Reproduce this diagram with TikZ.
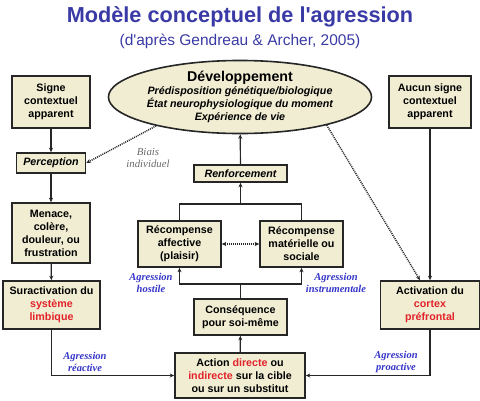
\documentclass[tikz,border=0pt]{standalone}
\usepackage{fontspec}
\setmainfont{Liberation Sans}
\newfontfamily\labelfont{Liberation Serif}
\usepackage{tikz}
\usetikzlibrary{arrows.meta,shapes.geometric}
\usepackage{xcolor}
\definecolor{boxfill}{HTML}{F0EDD2}
\definecolor{titleblue}{HTML}{3A3AA6}
\definecolor{labelblue}{HTML}{3535C8}
\definecolor{accent}{HTML}{E3222A}
\definecolor{biasgray}{HTML}{6A6A6A}

\begin{document}
\begin{tikzpicture}[
    x=1pt, y=-1pt,
    stageBox/.style={rectangle, draw=black!85, fill=boxfill, line width=1.6pt, font=\bfseries\fontsize{10.7}{13}\selectfont, align=center, inner sep=1pt},
    devBox/.style={ellipse, draw=black!85, fill=boxfill, line width=1.6pt, align=center, inner sep=0pt, minimum width=215pt, minimum height=70pt, font=\bfseries\fontsize{10.7}{13}\selectfont},
    labelText/.style={font=\labelfont\bfseries\itshape\fontsize{10.5}{12}\selectfont, text=labelblue, align=center, inner sep=0pt},
    arrowStyle/.style={-{Stealth[length=4.5pt,width=4pt]}, line width=1.2pt, draw=black!85},
    lineStyle/.style={line width=1.2pt, draw=black!85},
    dottedArrow/.style={-{Stealth[length=4.5pt,width=4pt]}, dash pattern=on 1pt off 1pt, line width=1.5pt, draw=black!85}
]
    \useasboundingbox (0,0) rectangle (480,400);

    % titre
    \node[font=\bfseries\fontsize{21.7}{24}\selectfont, text=titleblue] (title) at (240,17) {Mod\`ele conceptuel de l\textquotesingle agression};
    \node[font=\fontsize{15.5}{18}\selectfont, text=titleblue] (subtitle) at (240,41) {(d\textquotesingle apr\`es Gendreau \& Archer, 2005)};

    % developpement
    \node[devBox] (dev) at (240,97) {\fontsize{14.2}{14}\selectfont D\'eveloppement\\\itshape Pr\'edisposition g\'en\'etique/biologique\\\itshape\'Etat neurophysiologique du moment\\\itshape Exp\'erience de vie};

    % colonne gauche
    \node[stageBox, minimum width=78pt, minimum height=52pt] (signe) at (51,102) {Signe\\contextuel\\apparent};
    \node[stageBox, minimum width=69pt, minimum height=20pt, font=\bfseries\itshape\fontsize{10.7}{13}\selectfont] (perc) at (51,163) {Perception};
    \node[stageBox, minimum width=78pt, minimum height=60pt] (menace) at (51,233) {Menace,\\col\`ere,\\douleur, ou\\frustration};
    \node[stageBox, minimum width=97pt, minimum height=48pt] (surAct) at (51.5,305) {Suractivation du\\\textcolor{accent}{syst\`eme}\\\textcolor{accent}{limbique}};

    % colonne droite
    \node[stageBox, minimum width=82pt, minimum height=52pt] (aucun) at (430,102) {Aucun signe\\contextuel\\apparent};
    \node[stageBox, minimum width=99pt, minimum height=48pt] (actPref) at (430,305) {Activation du\\\textcolor{accent}{cortex}\\\textcolor{accent}{pr\'efrontal}};

    % centre
    \node[stageBox, minimum width=93pt, minimum height=17pt, font=\bfseries\itshape\fontsize{10.7}{13}\selectfont] (renf) at (240.5,173.5) {Renforcement};
    \node[stageBox, minimum width=83pt, minimum height=46pt] (recAff) at (179.5,244) {R\'ecompense\\affective\\(plaisir)};
    \node[stageBox, minimum width=83pt, minimum height=46pt] (recMat) at (301.5,244) {R\'ecompense\\mat\'erielle ou\\sociale};
    \node[stageBox, minimum width=93pt, minimum height=36pt] (cons) at (240.5,317) {Cons\'equence\\pour soi-m\^eme};
    \node[stageBox, minimum width=130pt, minimum height=45pt] (action) at (240,375.5) {Action \textcolor{accent}{directe} ou\\\textcolor{accent}{indirecte} sur la cible\\ou sur un substitut};

    % etiquettes
    \node[labelText, text=biasgray, font=\labelfont\itshape\fontsize{10.8}{12}\selectfont] (biais) at (148,158) {Biais\\individuel};
    \node[labelText] (hostile) at (151,283) {Agression\\hostile};
    \node[labelText] (instru) at (336,283) {Agression\\instrumentale};
    \node[labelText] (reactive) at (85,362) {Agression\\r\'eactive};
    \node[labelText] (proactive) at (396,362) {Agression\\proactive};

    % connecteurs
    \draw[arrowStyle] (signe) -- (perc);
    \draw[arrowStyle] (perc) -- (menace);
    \draw[arrowStyle] (menace) -- (surAct);
    \draw[arrowStyle] (aucun) -- (actPref);
    \draw[arrowStyle] (surAct.south) |- (action.west);
    \draw[arrowStyle] (actPref.south) |- (action.east);
    \draw[arrowStyle] (action) -- (cons);

    \coordinate (split) at (240.5,284);
    \draw[lineStyle] (cons.north) -- (split);
    \draw[arrowStyle] (split) -| (recAff.south);
    \draw[arrowStyle] (split) -| (recMat.south);

    \coordinate (join) at (240.5,204);
    \draw[lineStyle] (recAff.north) |- (join);
    \draw[lineStyle] (recMat.north) |- (join);
    \draw[arrowStyle] (join) -- (renf.south);
    \draw[arrowStyle] (renf) -- (dev);

    \draw[dottedArrow, {Stealth[length=4.5pt,width=4pt]}-{Stealth[length=4.5pt,width=4pt]}] (recAff) -- (recMat);
    \draw[dottedArrow] (dev.199) -- (perc.east);
    \draw[dottedArrow] (dev.-18) -- (actPref.112);
\end{tikzpicture}
\end{document}
